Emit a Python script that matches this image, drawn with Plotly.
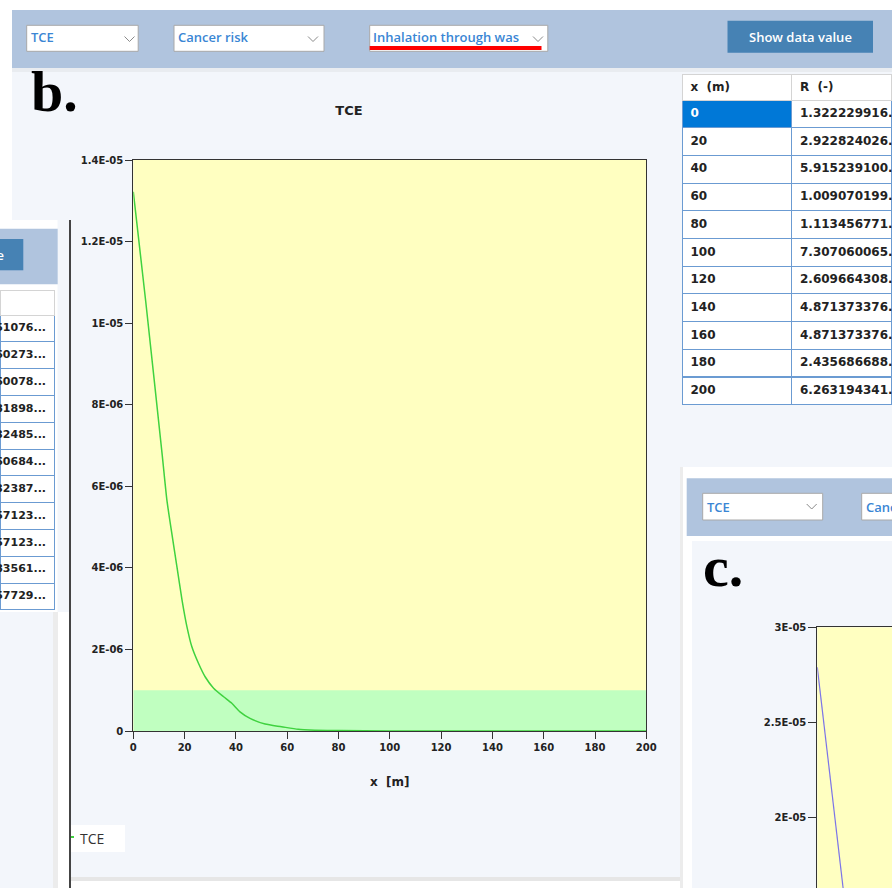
import plotly.graph_objects as go

W, H = 892, 888


def px(x):
    return x / W


def py(y):
    return 1 - y / H


# ---------------- data ----------------
chem = "TCE"
risk_label = "Cancer risk"
pathway_label = "Inhalation through was"
button_label = "Show data value"
panel_b_tag = "b."
panel_c_tag = "c."
x_title = "x  [m]"

# panel b curve
dist_b = [0, 4.9, 11.3, 13.1, 15.0, 17.0, 19.0, 20.9, 22.8, 25.4, 28.0, 31.3, 35.2,
          38.4, 41.6, 45.5, 51.4, 57.8, 64.3, 70.7, 80, 100, 120, 140, 160, 180, 200]
risk_b = [1.322e-5, 1.05e-5, 6.75e-6, 5.66e-6, 4.85e-6, 4.03e-6, 3.21e-6, 2.56e-6, 2.07e-6,
          1.66e-6, 1.33e-6, 1.05e-6, 0.84e-6, 0.68e-6, 0.47e-6, 0.31e-6, 0.17e-6, 0.105e-6,
          0.04e-6, 0.02e-6, 1.11e-8, 7.3e-10, 2.6e-11, 4.9e-13, 4.9e-15, 2.4e-17, 6.3e-19]
risk_threshold = 1e-6

x_ticks = [0, 20, 40, 60, 80, 100, 120, 140, 160, 180, 200]
x_ticktext = ["0", "20", "40", "60", "80", "100", "120", "140", "160", "180", "200"]
y_ticks_b = [0, 2e-6, 4e-6, 6e-6, 8e-6, 1e-5, 1.2e-5, 1.4e-5]
y_ticktext_b = ["0", "2E-06", "4E-06", "6E-06", "8E-06", "1E-05", "1.2E-05", "1.4E-05"]

# panel c curve (visible part)
dist_c = [0, 11]
risk_c = [2.79e-5, 1.52e-5]
y_ticks_c = [2e-5, 2.5e-5, 3e-5]
y_ticktext_c = ["2E-05", "2.5E-05", "3E-05"]

# data table
table_header = ["x  (m)", "R  (-)"]
table_x = ["0", "20", "40", "60", "80", "100", "120", "140", "160", "180", "200"]
table_R = ["1.322229916...", "2.922824026...", "5.915239100...", "1.009070199...",
           "1.113456771...", "7.307060065...", "2.609664308...", "4.871373376...",
           "4.871373376...", "2.435686688...", "6.263194341..."]

# partially visible table of the neighbouring panel
left_values = ["51076...", "60273...", "60078...", "81898...", "32485...", "60684...",
               "32387...", "57123...", "57123...", "83561...", "57729..."]

# ---------------- styles ----------------
BG = "#f3f6fb"
TOOLBAR = "#b0c4de"
BTN = "#4682b4"
DD_TEXT = "#3a86d4"
YELLOW = "#ffffc1"
GREEN_BAND = "#c0ffc0"
LINE_B = "#3fd23f"
LINE_C = "#7b74e8"
AX = "#333333"
TICKFONT = dict(family="DejaVu Sans", size=10, color="#222222", weight="bold")
DDFONT = dict(family="Open Sans", size=13, color=DD_TEXT, weight=600)

shapes = []
annotations = []


def rect(x0, y0, x1, y1, fill, line=None, lw=0, layer="below"):
    shapes.append(dict(type="rect", xref="paper", yref="paper",
                       x0=px(x0), x1=px(x1), y0=py(y1), y1=py(y0),
                       fillcolor=fill, line=dict(width=lw, color=line or fill),
                       layer=layer))


def chevron(cx, cy, color="#8a8a8a"):
    path = "M {},{} L {},{} L {},{}".format(px(cx - 5), py(cy - 2.5), px(cx), py(cy + 2.5),
                                            px(cx + 5), py(cy - 2.5))
    shapes.append(dict(type="path", xref="paper", yref="paper", path=path,
                       line=dict(color=color, width=1), layer="below"))


def text(x, y, s, font, xanchor="left", yanchor="middle"):
    annotations.append(dict(xref="paper", yref="paper", x=px(x), y=py(y), text=s,
                            showarrow=False, xanchor=xanchor, yanchor=yanchor,
                            font=font, borderpad=0))


# top area
rect(0, 0, 892, 10, "white")
rect(0, 0, 12, 220, "white")
rect(12, 10, 892, 68, TOOLBAR)
rect(12, 68, 892, 72, "#e9ecf0")
for (x0, x1) in [(26.7, 138.2), (174, 324), (369.7, 547.8)]:
    rect(x0, 25.3, x1, 51.3, "white", line="#a8a8a8", lw=1)
rect(369.7, 46, 541.5, 50, "#ff0000")
chevron(129.5, 39)
chevron(313, 39)
chevron(538, 39)
rect(727.5, 20.7, 873, 52.7, BTN)
text(30, 37.5, chem, DDFONT)
text(177, 37.5, risk_label, DDFONT)
text(372, 37.5, pathway_label, DDFONT)
text(800, 37, button_label, dict(family="Open Sans", size=13, color="white", weight=600),
     xanchor="center")

# neighbouring panel on the left
rect(0, 220, 57.5, 612, "white")
rect(0, 228.7, 57.7, 284.3, TOOLBAR)
rect(0, 239, 23.3, 270.3, BTN)
text(4.5, 254.7, button_label, dict(family="Open Sans", size=13, color="white", weight=600),
     xanchor="right")
rect(53, 612, 58, 888, "#ececec")
rect(58, 612, 70, 888, "white")

# bottom strip
rect(70, 877, 683, 881, "#e6e6e6")
rect(70, 881, 683, 888, "white")

# panel c frame
rect(680, 467, 683, 888, "#ececec")
rect(683, 467, 892, 541, "white")
rect(686.7, 478.3, 892, 536, TOOLBAR)
rect(683, 541, 692, 888, "white")
rect(702.7, 493.3, 822.7, 520, "white", line="#a8a8a8", lw=1)
rect(861.7, 493.3, 900, 520, "white", line="#a8a8a8", lw=1)
chevron(811.7, 506.5)
text(706, 506.5, chem, DDFONT)
text(865, 506.5, risk_label, DDFONT)

# legend (partly hidden by neighbouring panel)
rect(70, 825, 125, 852, "white")
shapes.append(dict(type="line", xref="paper", yref="paper", x0=px(70), x1=px(74),
                   y0=py(837), y1=py(837), line=dict(color=LINE_B, width=2), layer="below"))
text(79, 838, chem, dict(family="Open Sans", size=14, color="#333333"))

# dark border of neighbouring panel
shapes.append(dict(type="line", xref="paper", yref="paper", x0=px(70), x1=px(70),
                   y0=py(220), y1=py(888), line=dict(color="#444444", width=2), layer="above"))

# threshold band in panel b
shapes.append(dict(type="rect", xref="x", yref="y", x0=0, x1=200, y0=0, y1=risk_threshold,
                   fillcolor=GREEN_BAND, line=dict(width=0), layer="below"))

# panel tags
tagfont = dict(family="Liberation Serif", size=58, color="black", weight="bold")
text(30, 91, panel_b_tag, tagfont)
text(702, 566, panel_c_tag, tagfont)

fig = go.Figure()

fig.add_trace(go.Scatter(x=dist_b, y=risk_b, mode="lines", name=chem,
                         line=dict(color=LINE_B, width=1.5, shape="spline", smoothing=0.6),
                         xaxis="x", yaxis="y", showlegend=False, hoverinfo="skip"))
fig.add_trace(go.Scatter(x=dist_c, y=risk_c, mode="lines", name=chem,
                         line=dict(color=LINE_C, width=1.2),
                         xaxis="x2", yaxis="y2", showlegend=False, hoverinfo="skip"))

# main data table
cell_fill = [["#0078d7"] + ["white"] * (len(table_x) - 1), ["white"] * len(table_R)]
cell_fc = [["white"] + ["#222222"] * (len(table_x) - 1), ["#222222"] * len(table_R)]
fig.add_trace(go.Table(
    domain=dict(x=[px(682.5), 1.0], y=[py(412), py(74)]),
    columnwidth=[110, 100],
    header=dict(values=table_header, fill_color="white", line=dict(color="#d4d4d4", width=1),
                align="left", height=26,
                font=dict(family="DejaVu Sans", size=12, color="#222222", weight="bold")),
    cells=dict(values=[table_x, table_R], fill_color=cell_fill, line=dict(color="#6b9bd2", width=1),
               align="left", height=27.7,
               font=dict(family="DejaVu Sans", size=12, color=cell_fc, weight="bold")),
))

# partially visible table on the left
fig.add_trace(go.Table(
    domain=dict(x=[0.0, px(54.5)], y=[py(616), py(290)]),
    header=dict(values=[""], fill_color="white", line=dict(color="#d4d4d4", width=1), height=25),
    cells=dict(values=[left_values], fill_color="white", line=dict(color="#6b9bd2", width=1),
               align="right", height=26.8,
               font=dict(family="DejaVu Sans", size=11, color="#222222", weight="bold")),
))

fig.update_layout(
    width=W, height=H, margin=dict(l=0, r=0, t=0, b=0, pad=0, autoexpand=False),
    paper_bgcolor=BG, plot_bgcolor=YELLOW, showlegend=False,
    title=dict(text=chem, x=px(349), xanchor="center", y=py(110), yanchor="middle",
               xref="container", yref="container", automargin=False,
               font=dict(family="DejaVu Sans", size=13, color="#222222", weight="bold")),
    xaxis=dict(domain=[px(133.3), px(646.3)], range=[0, 200], tickvals=x_ticks, ticktext=x_ticktext,
               ticks="outside", ticklen=7, tickcolor=AX, showline=True, linecolor=AX, linewidth=1,
               mirror=True, showgrid=False, zeroline=False, tickfont=TICKFONT, anchor="y",
               automargin=False,
               title=dict(text=x_title, standoff=25,
                          font=dict(family="DejaVu Sans", size=12, color="#222222", weight="bold"))),
    yaxis=dict(domain=[py(731), py(160)], range=[0, 1.4e-5], tickvals=y_ticks_b, ticktext=y_ticktext_b,
               ticks="outside", ticklen=7, tickcolor=AX, showline=True, linecolor=AX, linewidth=1,
               mirror=True, showgrid=False, zeroline=False, tickfont=TICKFONT, anchor="x",
               automargin=False),
    xaxis2=dict(domain=[px(817.3), 1.0], range=[0, 29.07], anchor="y2", side="top",
                showline=True, linecolor=AX, linewidth=1, ticks="", showticklabels=False,
                showgrid=False, zeroline=False, automargin=False),
    yaxis2=dict(domain=[0.0, py(627.3)], range=[1.631e-5, 3e-5], anchor="x2",
                tickvals=y_ticks_c, ticktext=y_ticktext_c, ticks="outside", ticklen=8, tickcolor=AX,
                showline=True, linecolor=AX, linewidth=1, showgrid=False, zeroline=False,
                tickfont=TICKFONT, automargin=False),
    shapes=shapes, annotations=annotations,
)

fig.write_html("out.html")
